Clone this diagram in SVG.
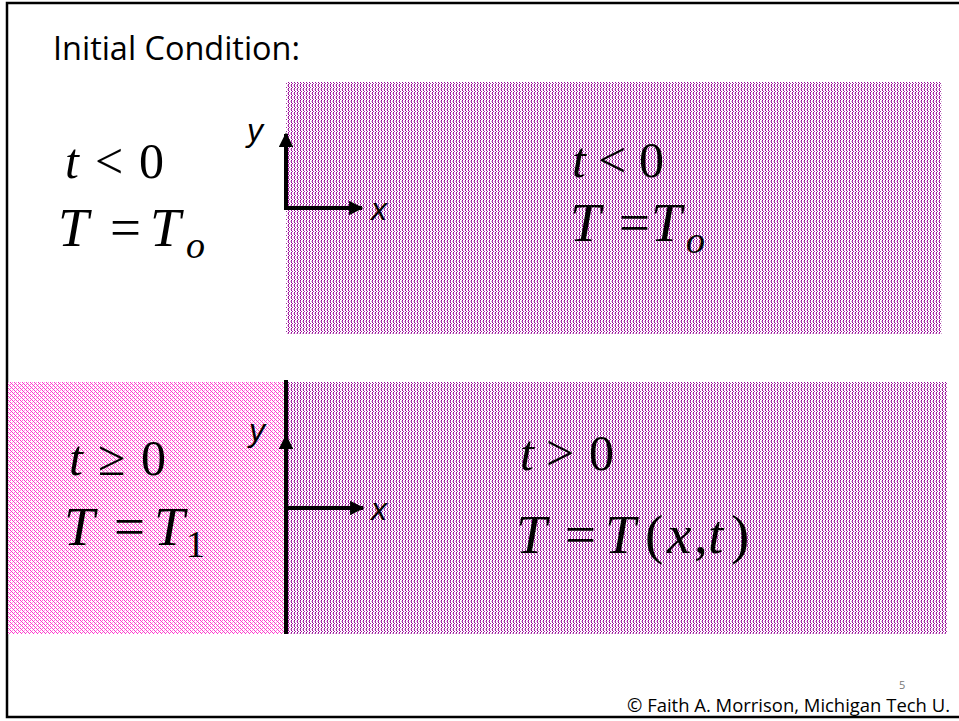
<svg xmlns="http://www.w3.org/2000/svg" width="959" height="721" viewBox="0 0 959 721">
<defs>
<pattern id="purp" x="0" y="0" width="3" height="4" patternUnits="userSpaceOnUse">
<rect width="3" height="4" fill="#ffffff"/>
<rect x="0" y="0" width="1" height="1" fill="#990099"/>
<rect x="0" y="1" width="1" height="1" fill="#b050b0"/>
<rect x="0" y="2" width="1" height="1" fill="#990099"/>
<rect x="1" y="3" width="1" height="1" fill="#a030a0"/>
<rect x="2" y="1" width="1" height="1" fill="#d9a6d9"/>
</pattern>
<pattern id="pink" x="0" y="0" width="4" height="4" patternUnits="userSpaceOnUse">
<rect width="4" height="4" fill="#ffffff"/>
<rect x="0" y="0" width="1" height="1" fill="#ff33cc"/>
<rect x="1" y="1" width="1" height="1" fill="#ff33cc"/>
<rect x="2" y="2" width="1" height="1" fill="#ff33cc"/>
<rect x="3" y="3" width="1" height="1" fill="#ff33cc"/>
<rect x="2" y="0" width="1" height="1" fill="#ff66d9"/>
<rect x="0" y="2" width="1" height="1" fill="#ff99e6"/>
</pattern>
<marker id="ah" viewBox="0 0 10 10" refX="9" refY="5" markerWidth="4" markerHeight="3.6" orient="auto">
<path d="M0,0 L10,5 L0,10 z" fill="#000"/>
</marker>
<style>
.m1{font-family:"Liberation Serif",serif;font-style:italic;font-size:50px;fill:#000}
.m2{font-family:"Liberation Serif",serif;font-style:italic;font-size:55px;fill:#000}
.n{font-style:normal}
.sub{font-size:38px}
.ax{font-family:"Liberation Sans",sans-serif;font-style:italic;font-size:32px;fill:#000}
.ln{stroke:#000;stroke-width:4;fill:none}
</style>
</defs>
<rect x="0" y="0" width="959" height="721" fill="#fff"/>
<rect x="7" y="3" width="960" height="714" fill="none" stroke="#000" stroke-width="2.5"/>
<text x="53" y="60" font-family="Open Sans, sans-serif" font-size="32" fill="#000" textLength="247" lengthAdjust="spacingAndGlyphs">Initial Condition:</text>
<g id="top-region">
<rect x="286" y="82" width="656" height="252" fill="url(#purp)"/>
<text class="m1" y="177"><tspan x="572">t</tspan><tspan class="n" x="598">&lt;</tspan><tspan class="n" x="639">0</tspan></text>
<text class="m2" y="241"><tspan x="570">T</tspan><tspan class="n" x="619">=</tspan><tspan x="651">T</tspan><tspan class="sub" x="686" y="253">o</tspan></text>
</g>
<g id="top-left-label">
<text class="m1" y="178"><tspan x="65">t</tspan><tspan class="n" x="95">&lt;</tspan><tspan class="n" x="139">0</tspan></text>
<text class="m2" y="246"><tspan x="58">T</tspan><tspan class="n" x="110">=</tspan><tspan x="150">T</tspan><tspan class="sub" x="186" y="258">o</tspan></text>
</g>
<g id="bottom-left-region">
<rect x="8" y="382" width="278" height="252" fill="url(#pink)"/>
<text class="m1" y="475"><tspan x="69">t</tspan><tspan class="n" x="98">≥</tspan><tspan class="n" x="141">0</tspan></text>
<text class="m2" y="545"><tspan x="64">T</tspan><tspan class="n" x="114">=</tspan><tspan x="154">T</tspan><tspan class="n sub" x="186" y="557">1</tspan></text>
</g>
<g id="bottom-right-region">
<rect x="286" y="382" width="661" height="252" fill="url(#purp)"/>
<text class="m1" y="470"><tspan x="520">t</tspan><tspan class="n" x="546">&gt;</tspan><tspan class="n" x="589">0</tspan></text>
<text class="m2" y="553"><tspan x="516">T</tspan><tspan class="n" x="565">=</tspan><tspan x="605">T</tspan><tspan class="n" x="645">(</tspan><tspan x="667">x</tspan><tspan class="n" x="694">,</tspan><tspan x="708">t</tspan><tspan class="n" x="731">)</tspan></text>
</g>
<g id="connectors">
<line class="ln" x1="286" y1="210" x2="286" y2="134" marker-end="url(#ah)"/>
<line class="ln" x1="284" y1="208" x2="362" y2="208" marker-end="url(#ah)"/>
<line class="ln" x1="286" y1="634" x2="286" y2="380"/>
<line class="ln" x1="286" y1="452" x2="286" y2="436" marker-end="url(#ah)"/>
<line class="ln" x1="286" y1="508" x2="363" y2="508" marker-end="url(#ah)"/>
</g>
<text class="ax" x="247" y="141">y</text>
<text class="ax" x="371" y="220">x</text>
<text class="ax" x="249" y="441">y</text>
<text class="ax" x="371" y="520">x</text>
<text x="899" y="689" font-family="Open Sans, sans-serif" font-size="11" fill="#777">5</text>
<text x="627" y="712" font-family="Open Sans, sans-serif" font-size="19" fill="#000" textLength="323" lengthAdjust="spacingAndGlyphs">© Faith A. Morrison, Michigan Tech U.</text>
</svg>
